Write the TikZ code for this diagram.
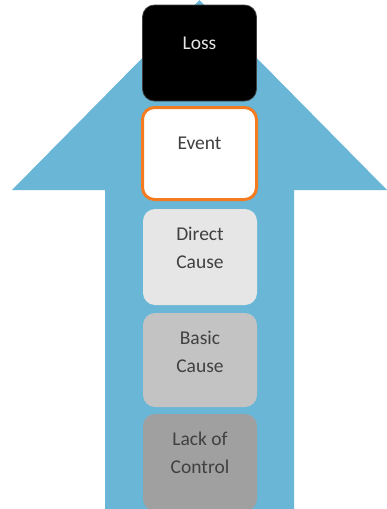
\documentclass[tikz,border=0pt]{standalone}
\usepackage{fontspec}
\setmainfont{Carlito}
\definecolor{arrowblue}{RGB}{105,182,214}
\definecolor{evorange}{RGB}{244,123,32}
\definecolor{txtgray}{RGB}{64,64,64}
\definecolor{directgray}{RGB}{230,230,230}
\definecolor{basicgray}{RGB}{195,195,195}
\definecolor{lackgray}{RGB}{160,160,160}
\newcommand{\boxtext}[3]{\parbox[t][#1][t]{114pt}{\centering\fontsize{19.5pt}{28pt}\selectfont\rule{0pt}{#2}#3}}
\tikzset{
  stagebox/.style={rounded corners=12pt, inner sep=0pt, outer sep=0pt, text=txtgray},
}
\begin{document}
\begin{tikzpicture}[x=1pt,y=-1pt]
\useasboundingbox (0,0) rectangle (387,509);
\fill[arrowblue] (199.5,0) -- (387,190) -- (294,190) -- (294,509) -- (105,509) -- (105,190) -- (12,190) -- cycle;
\node[stagebox, fill=black, draw=txtgray, line width=0.8pt, text=white!90!black, anchor=north] (loss) at (199.5,5) {\boxtext{96pt}{44.5pt}{Loss}};
\node[stagebox, fill=white, draw=evorange, line width=3pt, anchor=north] (event) at (199.5,107.5) {\boxtext{92pt}{41.5pt}{Event}};
\node[stagebox, fill=directgray, anchor=north] (direct) at (200,209) {\boxtext{96pt}{31pt}{Direct\\Cause}};
\node[stagebox, fill=basicgray, anchor=north] (basic) at (200,313) {\boxtext{94pt}{31pt}{Basic\\Cause}};
\node[stagebox, fill=lackgray, anchor=north] (lack) at (200,414) {\boxtext{97pt}{31pt}{Lack of\\Control}};
\end{tikzpicture}
\end{document}
